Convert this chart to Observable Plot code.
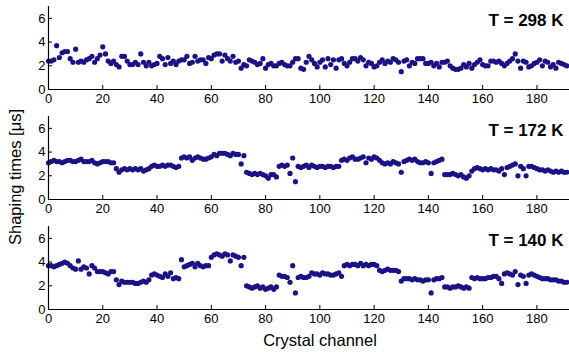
<!DOCTYPE html>
<html>
<head>
<meta charset="utf-8">
<script src="https://cdn.jsdelivr.net/npm/d3@7"></script>
<script src="https://cdn.jsdelivr.net/npm/@observablehq/plot@0.6"></script>
<style>
  html, body { margin: 0; padding: 0; background: #fff; }
  #wrap { position: relative; width: 569px; height: 352px; font-family: "Liberation Sans", Arial, sans-serif; }
  .panel { position: absolute; left: 0; }
  #ylabel { position: absolute; left: 15px; top: 177px; transform: translate(-50%, -50%) rotate(-90deg); font-size: 16.5px; white-space: nowrap; color: #000; }
  #xlabel { position: absolute; left: 320px; top: 340px; transform: translate(-50%, -50%); font-size: 16.5px; white-space: nowrap; color: #000; }
</style>
</head>
<body>
<div id="wrap">
  <div id="p0" class="panel" style="top:0px"></div>
  <div id="p1" class="panel" style="top:110.4px"></div>
  <div id="p2" class="panel" style="top:220px"></div>
  <div id="ylabel">Shaping times [μs]</div>
  <div id="xlabel">Crystal channel</div>
</div>
<script>
const panelTitles = ["T = 298 K", "T = 172 K", "T = 140 K"];
const xTicks = [0, 20, 40, 60, 80, 100, 120, 140, 160, 180];
const yTicks = [0, 2, 4, 6];

const shaping298 = [
  2.4,2.4,2.5,3.7,2.7,3.1,3.2,3.2,2.6,2.3,
  3.4,2.3,2.4,2.3,2.5,2.6,2.8,2.3,2.6,2.9,
  3.6,3.0,2.4,2.2,2.4,2.1,1.9,2.8,2.8,2.4,
  2.1,2.1,2.3,2.1,3.0,2.3,2.0,2.3,2.0,2.1,
  2.2,2.8,2.6,2.1,2.7,2.2,2.4,2.1,2.4,2.5,
  2.5,2.8,2.2,2.3,2.8,2.4,2.5,2.5,2.2,2.7,
  2.6,2.9,3.0,3.0,2.4,2.9,2.6,2.4,2.8,2.3,
  2.4,1.8,2.1,2.0,2.5,2.4,2.3,2.1,2.2,2.6,
  1.8,2.1,2.2,2.0,2.0,2.2,2.3,2.1,2.0,2.0,
  2.3,2.6,2.6,1.8,1.7,2.3,2.8,2.5,2.2,1.9,
  2.3,2.5,1.9,2.6,2.1,2.5,1.8,2.5,2.6,2.2,
  2.0,2.3,2.6,2.6,2.4,2.7,2.5,2.0,2.3,2.2,
  1.9,2.0,2.3,2.5,2.2,2.4,2.3,2.6,2.5,2.3,
  1.5,2.4,2.5,2.0,2.3,2.2,2.6,2.6,2.6,2.2,
  2.2,2.3,2.0,2.2,1.9,2.3,2.3,2.4,2.0,1.8,
  1.7,1.7,1.8,2.1,1.9,2.2,1.8,2.1,2.3,2.5,
  2.1,2.0,2.0,2.4,2.4,2.3,2.4,2.2,2.0,2.2,
  2.4,2.6,3.0,2.4,1.8,2.4,2.3,1.9,2.0,2.2,
  2.3,2.5,2.0,2.4,2.3,1.9,2.1,1.8,2.3,2.2,2.1,2.0
];

const shaping172 = [
  3.1,3.2,3.3,3.2,3.2,3.1,3.2,3.3,3.3,3.2,   // 0-9
  3.2,3.3,3.4,3.2,3.2,3.2,3.3,3.1,3.0,3.1,   // 10-19
  3.2,3.2,3.2,3.1,3.1,                       // 20-24
  2.6,2.3,2.5,2.6,2.5,                       // 25-29
  2.6,2.5,2.6,2.5,2.6,2.4,2.5,2.6,           // 30-37
  2.8,2.9,2.8,2.8,2.9,2.8,2.9,2.9,2.8,2.7,   // 38-47
  2.8,                                       // 48
  3.5,3.6,3.5,                               // 49-51
  3.6,3.3,3.5,3.6,3.5,3.4,3.4,3.5,           // 52-59
  3.6,3.8,3.7,3.9,3.9,3.9,3.8,3.7,3.9,3.8,   // 60-69
  3.8,3.0,3.7,                               // 70-72
  2.3,2.2,2.1,2.2,2.1,2.2,2.1,2.0,1.8,2.1,2.1,1.9, // 73-84
  2.8,2.9,2.8,2.9,                           // 85-88
  2.2,3.5,1.5,                               // 89-91
  2.8,2.7,2.8,2.9,2.7,2.9,2.8,2.7,2.8,2.8,2.7,2.8,2.8,2.7,2.8,2.8, // 92-107
  3.3,3.4,3.3,3.5,3.6,3.4,3.4,3.5,3.6,3.1,3.5,3.4,3.6,3.5, // 108-121
  3.3,3.1,3.0,3.1,3.0,3.2,3.1,3.0,           // 122-129
  2.3,                                       // 130
  3.2,3.3,3.4,3.3,3.4,                       // 131-135
  3.2,3.1,3.1,3.2,3.1,                       // 136-140
  2.2,                                       // 141
  3.1,3.2,3.3,3.4,                           // 142-145
  2.1,2.1,2.1,2.2,2.1,2.0,2.1,1.9,1.8,2.0,   // 146-155
  2.4,2.6,2.7,2.6,2.5,2.6,2.5,2.6,2.5,2.5,2.4,2.6, // 156-167
  2.1,                                       // 168
  2.7,2.8,2.9,3.0,                           // 169-172
  2.0,                                       // 173
  2.8,2.6,                                   // 174-175
  2.0,                                       // 176
  2.8,2.8,2.7,                               // 177-179
  2.6,2.5,2.5,2.4,2.5,2.4,2.3,2.4,2.3,2.4,2.3,2.3  // 180-191
];

const shaping140 = [
  3.7,3.7,3.6,3.7,3.8,                       // 0-4
  3.9,4.0,3.9,3.7,3.5,3.4,                   // 5-10
  4.1,                                       // 11
  3.4,3.6,3.5,                               // 12-14
  3.0,                                       // 15
  3.7,3.5,                                   // 16-17
  3.2,3.2,3.2,3.1,3.0,3.2,3.2,               // 18-24
  2.5,                                       // 25
  2.1,                                       // 26
  2.4,2.3,2.3,2.3,2.3,2.2,2.2,2.3,2.4,2.3,   // 27-36
  2.5,2.9,3.0,2.9,2.8,2.7,3.0,2.8,3.1,       // 37-45
  2.6,2.7,2.6,                               // 46-48
  4.2,                                       // 49
  3.6,3.7,3.8,3.9,3.6,3.9,3.7,3.6,3.7,3.7,   // 50-59
  4.4,4.6,4.7,4.6,4.5,4.7,4.6,4.1,4.6,4.5,4.4, // 60-70
  3.7,4.4,                                   // 71-72
  2.0,1.9,1.8,1.9,2.0,1.8,1.9,1.7,1.8,1.9,1.7,1.9, // 73-84
  2.9,2.8,2.8,2.7,                           // 85-88
  2.3,3.7,1.4,                               // 89-91
  2.7,2.8,2.7,2.7,2.8,                       // 92-96
  3.1,3.0,3.0,2.9,3.1,3.0,3.0,2.9,2.9,3.0,3.1, // 97-107
  2.8,                                       // 108
  3.7,3.8,3.7,3.8,3.8,3.7,3.9,3.7,3.8,3.7,3.8,3.8,3.7, // 109-121
  3.3,3.2,3.3,3.4,3.3,3.3,3.3,3.2,           // 122-129
  2.4,                                       // 130
  2.6,2.6,2.6,2.5,2.6,2.5,2.5,2.4,2.5,2.5,   // 131-140
  1.4,                                       // 141
  2.5,2.6,2.6,2.7,                           // 142-145
  1.9,1.9,1.8,1.9,1.9,2.0,1.9,1.8,1.9,1.8,   // 146-155
  2.7,2.6,2.7,2.6,2.6,2.6,2.7,2.7,2.8,2.8,2.6, // 156-166
  2.2,                                       // 167
  3.0,3.1,3.0,2.9,3.2,                       // 168-172
  2.1,                                       // 173
  2.9,2.8,                                   // 174-175
  2.2,                                       // 176
  2.9,3.0,2.9,                               // 177-179
  2.8,2.7,2.6,2.6,2.6,2.5,2.5,2.5,2.4,2.4,2.3,2.3  // 180-191
];

const series = [shaping298, shaping172, shaping140];
const dotColor = "#1a1285";

series.forEach((vals, i) => {
  const data = vals.map((v, c) => ({channel: c, value: v}));
  const chart = Plot.plot({
    width: 569,
    height: 110,
    marginLeft: 48,
    marginRight: 0,
    marginTop: 6,
    marginBottom: 21,
    x: {domain: [0, 192]},
    y: {domain: [0, 7]},
    style: {fontFamily: "'Liberation Sans', Arial, sans-serif", fontSize: "13px", color: "#000", background: "transparent", overflow: "visible"},
    marks: [
      Plot.axisX({ticks: xTicks, tickSize: -4, tickPadding: 8.5, tickFormat: d => String(d), label: null, fontSize: 13, strokeWidth: 1}),
      Plot.axisY({ticks: yTicks, tickSize: -4, tickPadding: 7, tickFormat: d => String(d), label: null, fontSize: 13, strokeWidth: 1}),
      Plot.dot(data, {x: "channel", y: "value", r: 2.6, fill: dotColor, stroke: "none"}),
      Plot.ruleY([0], {stroke: "#000", strokeWidth: 1.2}),
      Plot.ruleX([0], {stroke: "#000", strokeWidth: 1.2}),
      Plot.text([panelTitles[i]], {frameAnchor: "top-right", dx: -6, dy: 14.5, lineAnchor: "middle", fontWeight: "bold", fontSize: 17, fill: "#000"})
    ]
  });
  document.getElementById("p" + i).appendChild(chart);
});
</script>
</body>
</html>
